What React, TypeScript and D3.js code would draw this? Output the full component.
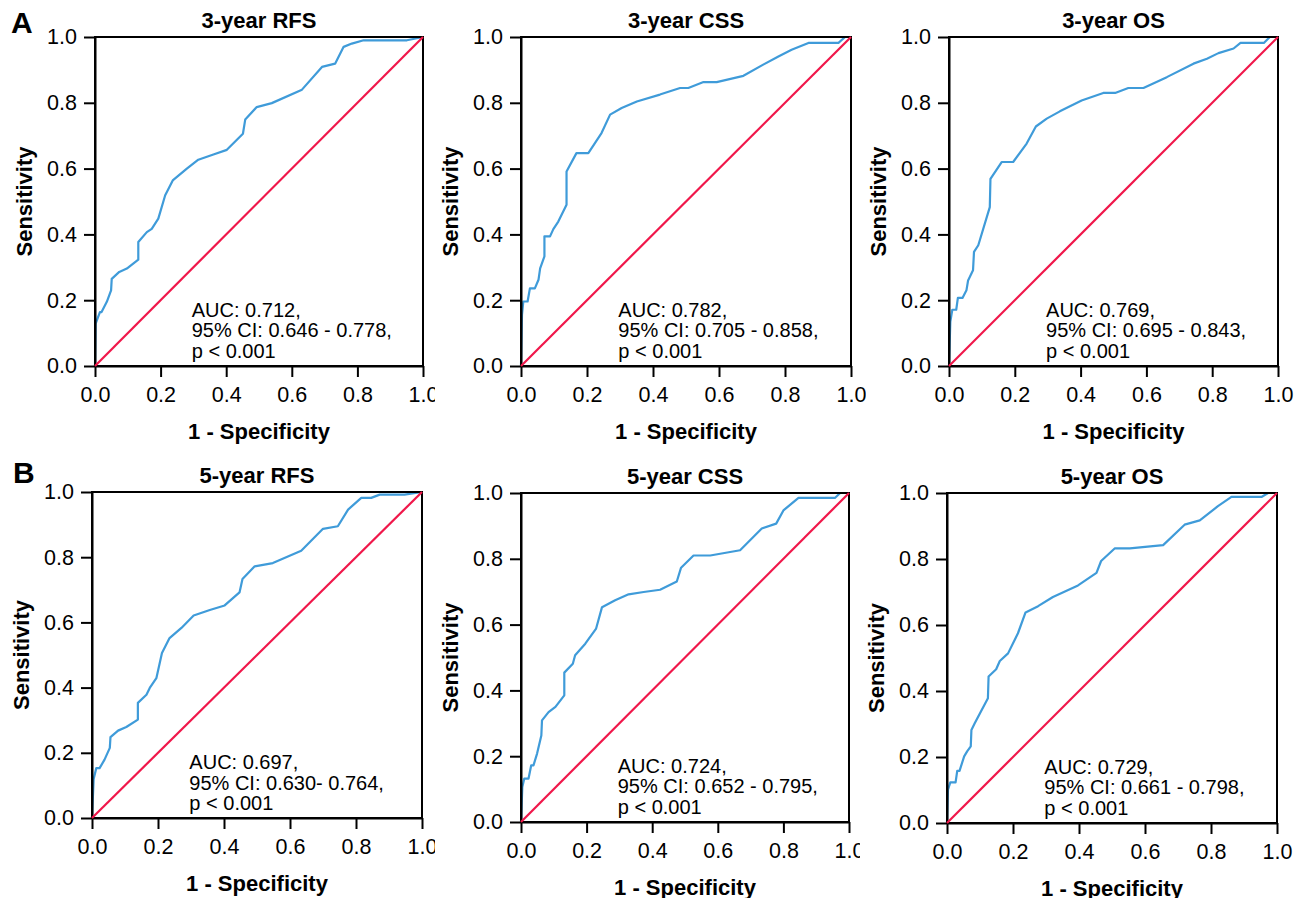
import React, { useRef, useEffect } from 'react';
import * as d3 from 'd3';

type Pt = [number, number];

// ROC curves: [1 - specificity, sensitivity]
const rfs3: Pt[] = [
  [0, 0], [0.002, 0.129], [0.015, 0.164], [0.02, 0.164], [0.036, 0.195], [0.049, 0.23],
  [0.051, 0.265], [0.074, 0.286], [0.097, 0.296], [0.132, 0.323], [0.132, 0.377],
  [0.158, 0.407], [0.173, 0.417], [0.193, 0.448], [0.214, 0.519], [0.237, 0.564],
  [0.28, 0.6], [0.315, 0.627], [0.361, 0.643], [0.402, 0.657], [0.451, 0.706],
  [0.458, 0.749], [0.493, 0.787], [0.539, 0.799], [0.631, 0.84], [0.692, 0.909],
  [0.732, 0.919], [0.758, 0.97], [0.783, 0.98], [0.819, 0.99], [0.951, 0.99], [1, 1],
];

const css3: Pt[] = [
  [0, 0], [0.003, 0.155], [0.007, 0.196], [0.02, 0.196], [0.027, 0.236], [0.042, 0.236],
  [0.053, 0.262], [0.058, 0.297], [0.071, 0.333], [0.071, 0.394], [0.088, 0.394],
  [0.098, 0.416], [0.113, 0.439], [0.138, 0.49], [0.138, 0.591], [0.168, 0.647],
  [0.204, 0.647], [0.244, 0.708], [0.27, 0.764], [0.305, 0.784], [0.351, 0.804],
  [0.421, 0.825], [0.482, 0.845], [0.507, 0.845], [0.553, 0.863], [0.593, 0.863],
  [0.674, 0.882], [0.734, 0.916], [0.78, 0.941], [0.82, 0.961], [0.871, 0.982],
  [0.962, 0.982], [0.982, 1], [1, 1],
];

const os3: Pt[] = [
  [0, 0], [0.004, 0.134], [0.01, 0.171], [0.022, 0.171], [0.027, 0.207], [0.041, 0.207],
  [0.053, 0.23], [0.058, 0.26], [0.073, 0.291], [0.076, 0.347], [0.089, 0.367],
  [0.124, 0.483], [0.126, 0.569], [0.16, 0.62], [0.195, 0.62], [0.236, 0.676],
  [0.264, 0.728], [0.297, 0.752], [0.337, 0.774], [0.403, 0.807], [0.469, 0.83],
  [0.505, 0.83], [0.545, 0.845], [0.591, 0.845], [0.662, 0.878], [0.743, 0.919],
  [0.784, 0.934], [0.819, 0.951], [0.865, 0.965], [0.886, 0.982], [0.957, 0.982],
  [0.975, 1], [1, 1],
];

const rfs5: Pt[] = [
  [0, 0], [0.005, 0.12], [0.013, 0.153], [0.023, 0.153], [0.038, 0.179], [0.054, 0.215],
  [0.056, 0.248], [0.079, 0.268], [0.104, 0.279], [0.139, 0.302], [0.139, 0.353],
  [0.165, 0.378], [0.175, 0.399], [0.195, 0.429], [0.212, 0.506], [0.235, 0.552],
  [0.271, 0.583], [0.308, 0.621], [0.357, 0.638], [0.402, 0.652], [0.447, 0.692],
  [0.456, 0.733], [0.493, 0.772], [0.548, 0.782], [0.634, 0.82], [0.7, 0.887],
  [0.745, 0.895], [0.776, 0.946], [0.816, 0.982], [0.846, 0.982], [0.872, 0.992],
  [0.947, 0.992], [1, 1],
];

const css5: Pt[] = [
  [0, 0], [0.004, 0.106], [0.01, 0.132], [0.023, 0.132], [0.031, 0.172], [0.038, 0.172],
  [0.049, 0.208], [0.062, 0.263], [0.064, 0.309], [0.084, 0.334], [0.105, 0.35],
  [0.132, 0.385], [0.132, 0.454], [0.158, 0.481], [0.165, 0.507], [0.196, 0.542],
  [0.229, 0.588], [0.247, 0.653], [0.287, 0.674], [0.328, 0.692], [0.374, 0.699],
  [0.424, 0.706], [0.475, 0.731], [0.488, 0.773], [0.526, 0.81], [0.577, 0.81],
  [0.668, 0.826], [0.734, 0.892], [0.778, 0.907], [0.8, 0.947], [0.846, 0.985],
  [0.957, 0.985], [0.973, 1], [1, 1],
];

const os5: Pt[] = [
  [0, 0], [0.003, 0.101], [0.01, 0.123], [0.026, 0.123], [0.031, 0.158], [0.038, 0.158],
  [0.052, 0.202], [0.061, 0.217], [0.072, 0.232], [0.074, 0.282], [0.084, 0.302],
  [0.124, 0.378], [0.126, 0.444], [0.149, 0.466], [0.16, 0.491], [0.185, 0.514],
  [0.215, 0.575], [0.238, 0.638], [0.276, 0.657], [0.321, 0.685], [0.397, 0.72],
  [0.453, 0.758], [0.467, 0.794], [0.508, 0.832], [0.554, 0.832], [0.655, 0.842],
  [0.72, 0.904], [0.766, 0.917], [0.821, 0.96], [0.862, 0.988], [0.953, 0.988],
  [0.973, 1], [1, 1],
];

const curves = [rfs3, css3, os3, rfs5, css5, os5];

const titles = ['3-year RFS', '3-year CSS', '3-year OS', '5-year RFS', '5-year CSS', '5-year OS'];

const aucTexts = [
  ['AUC: 0.712,', '95% CI: 0.646 - 0.778,', 'p < 0.001'],
  ['AUC: 0.782,', '95% CI: 0.705 - 0.858,', 'p < 0.001'],
  ['AUC: 0.769,', '95% CI: 0.695 - 0.843,', 'p < 0.001'],
  ['AUC: 0.697,', '95% CI: 0.630- 0.764,', 'p < 0.001'],
  ['AUC: 0.724,', '95% CI: 0.652 - 0.795,', 'p < 0.001'],
  ['AUC: 0.729,', '95% CI: 0.661 - 0.798,', 'p < 0.001'],
];

const ticks = [0, 0.2, 0.4, 0.6, 0.8, 1.0];

const panelLetters = ['A', 'B'];

// layout (page pixels)
const W = 1297;
const H = 898;
const boxes = [
  { left: 95, top: 37, width: 328, height: 329, clip: [0, 435] },
  { left: 521, top: 37, width: 330, height: 329, clip: [435, 866] },
  { left: 949, top: 37, width: 329, height: 329, clip: [866, W] },
  { left: 92, top: 492, width: 330, height: 326, clip: [0, 435] },
  { left: 521, top: 493, width: 328, height: 329, clip: [435, 860] },
  { left: 947, top: 493, width: 330, height: 330, clip: [860, W] },
];

const BLUE = '#3f9bd9';
const RED = '#f0174a';
const FONT = '"Liberation Sans", Arial, sans-serif';

const RocPanels = () => {
  const svgRef = useRef<SVGSVGElement>(null);

  useEffect(() => {
    if (!svgRef.current) return;
    const svg = d3.select(svgRef.current);
    svg.selectAll('*').remove();

    const defs = svg.append('defs');

    curves.forEach((data, i) => {
      const b = boxes[i];
      defs.append('clipPath')
        .attr('id', `panel-clip-${i}`)
        .append('rect')
        .attr('x', b.clip[0])
        .attr('y', 0)
        .attr('width', b.clip[1] - b.clip[0])
        .attr('height', H);

      const outer = svg.append('g').attr('clip-path', `url(#panel-clip-${i})`);
      const g = outer.append('g').attr('transform', `translate(${b.left},${b.top})`);

      const x = d3.scaleLinear().domain([0, 1]).range([0, b.width]);
      const y = d3.scaleLinear().domain([0, 1]).range([b.height, 0]);
      const line = d3.line<Pt>().x(d => x(d[0])).y(d => y(d[1]));

      // ROC curve
      g.append('path')
        .datum(data)
        .attr('d', line)
        .attr('fill', 'none')
        .attr('stroke', BLUE)
        .attr('stroke-width', 2.2)
        .attr('stroke-linejoin', 'round');

      // frame
      g.append('rect')
        .attr('x', 0)
        .attr('y', 0)
        .attr('width', b.width)
        .attr('height', b.height)
        .attr('fill', 'none')
        .attr('stroke', '#000')
        .attr('stroke-width', 2);

      // axes
      const xAxis = g.append('g')
        .attr('transform', `translate(0,${b.height})`)
        .call(d3.axisBottom(x).tickValues(ticks).tickFormat(d3.format('.1f')).tickSize(11).tickSizeOuter(0).tickPadding(10));
      const yAxis = g.append('g')
        .call(d3.axisLeft(y).tickValues(ticks).tickFormat(d3.format('.1f')).tickSize(11).tickSizeOuter(0).tickPadding(7));
      [xAxis, yAxis].forEach(ax => {
        ax.attr('font-family', FONT).attr('font-size', 21.5);
        ax.selectAll('path, line').attr('stroke', '#000').attr('stroke-width', 2);
        ax.selectAll('text').attr('fill', '#000');
      });

      // reference diagonal
      g.append('path')
        .datum([[0, 0], [1, 1]] as Pt[])
        .attr('d', line)
        .attr('fill', 'none')
        .attr('stroke', RED)
        .attr('stroke-width', 2.2);

      // title
      g.append('text')
        .attr('x', b.width / 2)
        .attr('y', -9)
        .attr('text-anchor', 'middle')
        .attr('font-family', FONT)
        .attr('font-size', 22)
        .attr('font-weight', 'bold')
        .text(titles[i]);

      // axis labels
      g.append('text')
        .attr('x', b.width / 2)
        .attr('y', b.height + 73)
        .attr('text-anchor', 'middle')
        .attr('font-family', FONT)
        .attr('font-size', 22)
        .attr('font-weight', 'bold')
        .text('1 - Specificity');

      g.append('text')
        .attr('transform', `translate(-63,${b.height / 2}) rotate(-90)`)
        .attr('text-anchor', 'middle')
        .attr('font-family', FONT)
        .attr('font-size', 22)
        .attr('font-weight', 'bold')
        .text('Sensitivity');

      // AUC annotation
      const note = g.append('text')
        .attr('font-family', FONT)
        .attr('font-size', 20)
        .attr('fill', '#000');
      aucTexts[i].forEach((t, j) => {
        note.append('tspan')
          .attr('x', x(0.295))
          .attr('y', y(0.15) + j * 20.5)
          .text(t);
      });
    });

    // panel letters
    panelLetters.forEach((letter, r) => {
      svg.append('text')
        .attr('x', r === 0 ? 11 : 13)
        .attr('y', r === 0 ? 33 : 483)
        .attr('font-family', FONT)
        .attr('font-size', 30)
        .attr('font-weight', 'bold')
        .text(letter);
    });
  }, []);

  return (
    <svg
      ref={svgRef}
      width={W}
      height={H}
      style={{ position: 'absolute', left: 0, top: 0, background: '#fff' }}
    />
  );
};

export default function App() {
  return <RocPanels />;
}
